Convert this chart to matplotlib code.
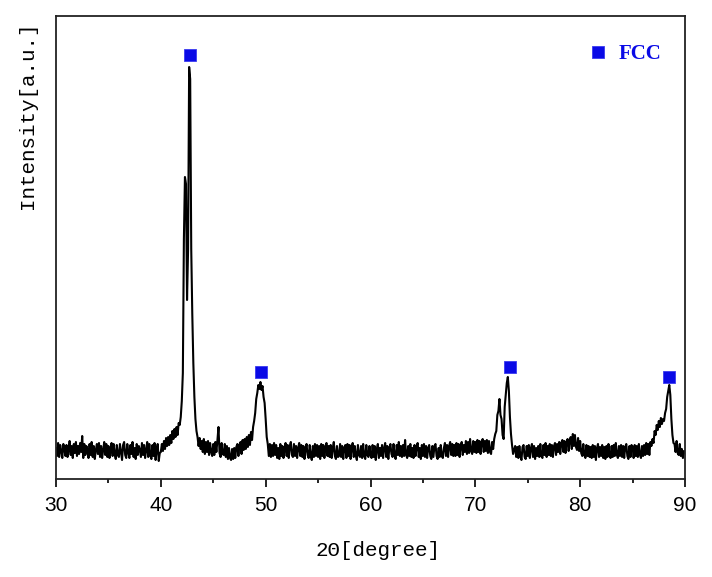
import numpy as np
import matplotlib
matplotlib.use("Agg")
import matplotlib.pyplot as plt
from matplotlib.lines import Line2D

plt.rcParams["path.simplify"] = False

# ---- data (arbitrary units) ----
two_theta = np.linspace(30.0, 90.0, 601)

intensity = [
    31, 23, 36, 22, 34, 28, 21, 35, 30, 23,        # 30
    34, 22, 29, 38, 24, 33, 21, 35, 26, 37,        # 31
    23, 33, 25, 36, 27, 43, 21, 35, 24, 33,        # 32
    29, 21, 35, 24, 37, 22, 33, 20, 29, 35,        # 33
    25, 36, 22, 33, 21, 29, 37, 24, 35, 22,        # 34
    33, 21, 29, 36, 23, 35, 25, 20, 34, 24,        # 35
    22, 35, 27, 19, 34, 37, 24, 21, 35, 27,        # 36
    21, 34, 25, 37, 22, 31, 20, 35, 24, 33,        # 37
    29, 22, 36, 24, 34, 21, 29, 37, 22, 35,        # 38
    24, 20, 34, 23, 36, 19, 29, 35, 18, 26,        # 39
    27, 35, 28, 38, 30, 41, 33, 42, 34, 44,        # 40
    36, 48, 40, 50, 42, 52, 44, 56, 54, 62,        # 41
    78, 106, 240, 302, 295, 179, 230, 412, 400, 230,  # 42
    165, 116, 82, 60, 48, 42, 33, 41, 30, 38,      # 43
    27, 40, 25, 37, 27, 38, 24, 36, 27, 23,        # 44
    35, 24, 37, 27, 39, 52, 26, 22, 36, 25,        # 45
    24, 35, 22, 33, 20, 31, 21, 19, 30, 20,        # 46
    31, 21, 32, 35, 23, 34, 37, 25, 39, 29,        # 47
    40, 30, 42, 32, 44, 34, 47, 39, 52, 58,        # 48
    66, 80, 86, 94, 90, 97, 89, 93, 82, 76,        # 49
    60, 42, 35, 23, 35, 22, 34, 23, 36, 24,        # 50
    34, 21, 31, 20, 35, 23, 33, 21, 30, 36,        # 51
    23, 34, 21, 33, 37, 24, 22, 35, 23, 33,        # 52
    21, 31, 36, 23, 34, 22, 33, 20, 30, 35,        # 53
    24, 21, 34, 23, 19, 33, 22, 35, 23, 34,        # 54
    22, 33, 20, 35, 23, 34, 21, 31, 36, 23,        # 55
    33, 22, 34, 21, 31, 37, 23, 20, 33, 22,        # 56
    23, 35, 22, 33, 20, 31, 34, 21, 35, 23,        # 57
    34, 20, 31, 36, 22, 33, 23, 19, 34, 24,        # 58
    22, 33, 21, 35, 23, 20, 34, 24, 22, 33,        # 59
    24, 21, 34, 22, 33, 19, 30, 35, 21, 31,        # 60
    23, 34, 21, 31, 36, 22, 33, 20, 31, 35,        # 61
    25, 22, 35, 23, 20, 34, 24, 37, 23, 33,        # 62
    22, 34, 23, 39, 24, 21, 33, 23, 35, 22,        # 63
    31, 21, 34, 23, 33, 36, 22, 31, 20, 34,        # 64
    23, 35, 22, 33, 21, 31, 34, 23, 20, 33,        # 65
    22, 33, 35, 23, 20, 31, 22, 34, 23, 21,        # 66
    31, 36, 23, 34, 22, 33, 37, 24, 35, 23,        # 67
    34, 23, 36, 24, 35, 22, 33, 37, 24, 34,        # 68
    27, 38, 25, 37, 26, 40, 28, 25, 38, 27,        # 69
    37, 26, 39, 27, 38, 25, 37, 40, 27, 38,        # 70
    28, 39, 26, 38, 27, 25, 37, 30, 40, 45,        # 71
    48, 64, 68, 80, 64, 60, 44, 40, 72, 84,        # 72
    96, 102, 88, 62, 45, 34, 25, 29, 33, 22,       # 73
    32, 21, 33, 23, 19, 32, 34, 22, 20, 33,        # 74
    23, 34, 21, 31, 35, 22, 33, 20, 31, 23,        # 75
    33, 22, 35, 23, 21, 34, 24, 36, 22, 33,        # 76
    24, 35, 23, 34, 22, 33, 36, 24, 35, 27,        # 77
    37, 25, 36, 39, 27, 38, 26, 37, 40, 28,        # 78
    39, 42, 30, 45, 33, 44, 32, 29, 41, 28,        # 79
    38, 26, 23, 35, 24, 21, 34, 23, 33, 22,        # 80
    32, 21, 34, 22, 33, 19, 31, 35, 22, 32,        # 81
    23, 34, 21, 32, 20, 33, 22, 35, 23, 21,        # 82
    33, 22, 34, 23, 36, 24, 21, 33, 23, 34,        # 83
    22, 33, 21, 32, 35, 23, 20, 33, 22, 34,        # 84
    32, 21, 34, 23, 33, 22, 35, 24, 21, 33,        # 85
    23, 34, 24, 36, 25, 35, 24, 37, 33, 40,        # 86
    36, 48, 44, 54, 49, 58, 52, 61, 55, 60,        # 87
    58, 66, 70, 82, 88, 94, 84, 60, 44, 36,        # 88
    35, 27, 38, 26, 24, 35, 23, 30, 21, 28,        # 89
    26,                                            # 90
]

peak_pos = [42.8, 49.6, 73.3, 88.5]
peak_mark = [424, 107, 112, 102]
phase_label = "FCC"

x_ticks = [30, 40, 50, 60, 70, 80, 90]

# ---- figure ----
fig = plt.figure(figsize=(7.12, 5.77), dpi=100)
ax = fig.add_axes([56 / 712, 98 / 577, 629 / 712, 463 / 577])

blue = "#0a0ae6"
ax.plot(two_theta, intensity, color="black", lw=1.5)
ax.plot(peak_pos, peak_mark, linestyle="none", marker="s", ms=8,
        color=blue, mec="#3a3af0", mew=0.6)

ax.set_xlim(30, 90)
ax.set_ylim(0, 463)
ax.set_xticks(x_ticks)
ax.set_xticks([35, 45, 55, 65, 75, 85], minor=True)
ax.set_yticks([])
ax.tick_params(axis="x", which="major", direction="out", length=6, width=1.2,
               labelsize=15, pad=6, top=False)
ax.tick_params(axis="x", which="minor", direction="out", length=3.2, width=1.2,
               top=False)
for lab in ax.get_xticklabels():
    lab.set_fontfamily("Liberation Sans")
for sp in ax.spines.values():
    sp.set_linewidth(1.3)
    sp.set_color("#222222")

fig.text(378 / 712, 1 - 550 / 577, "2Θ[degree]", family="Liberation Mono",
         fontsize=15, ha="center", va="center")
fig.text(28 / 712, 1 - 115 / 577, "Intensity[a.u.]", family="Liberation Mono",
         fontsize=15, ha="center", va="center", rotation=90)

handle = Line2D([], [], linestyle="none", marker="s", ms=8, color=blue,
                mec="#3a3af0", mew=0.6)
leg = ax.legend([handle], [phase_label], loc="upper right",
                bbox_to_anchor=(0.992, 0.98), frameon=False,
                handlelength=0.8, handletextpad=0.6,
                prop={"family": "Liberation Serif", "weight": "bold", "size": 15})
for t in leg.get_texts():
    t.set_color(blue)

fig.savefig("out.png", dpi=100)
